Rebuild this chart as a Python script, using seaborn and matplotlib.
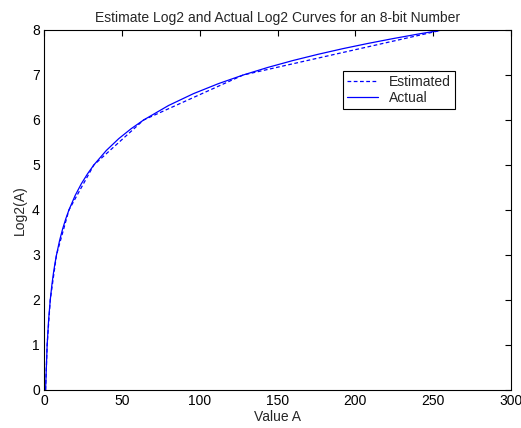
import matplotlib
matplotlib.use('Agg')
import matplotlib.pyplot as plt
import seaborn as sns
import pandas as pd

# valores
est_x = [1, 2, 4, 8, 16, 32, 64, 128, 255]
est_y = [0, 1, 2, 3, 4, 5, 6, 7, 7.992]

act_x = [1, 2, 3, 4, 5, 6, 7, 8, 10, 12, 14, 16, 20, 24, 28, 32, 40, 48, 56, 64,
         80, 96, 112, 128, 144, 160, 176, 192, 208, 224, 240, 255]
act_y = [0, 1, 1.585, 2, 2.322, 2.585, 2.807, 3, 3.322, 3.585, 3.807, 4, 4.322, 4.585,
         4.807, 5, 5.322, 5.585, 5.807, 6, 6.322, 6.585, 6.807, 7, 7.170, 7.322,
         7.459, 7.585, 7.700, 7.807, 7.907, 7.994]

x_ticks = [0, 50, 100, 150, 200, 250, 300]
y_ticks = [0, 1, 2, 3, 4, 5, 6, 7, 8]

sns.set_style('white')
plt.rcParams['font.family'] = ['Liberation Sans', 'DejaVu Sans']

df_est = pd.DataFrame({'A': est_x, 'log2': est_y})
df_act = pd.DataFrame({'A': act_x, 'log2': act_y})

fig = plt.figure(figsize=(5.21, 4.28), dpi=100)
ax = fig.add_axes([0.0845, 0.0888, 0.8965, 0.8412])

sns.lineplot(data=df_est, x='A', y='log2', ax=ax, color='#0000ff', lw=0.9,
             linestyle=(0, (3, 2)), sort=False, estimator=None, label='Estimated')
sns.lineplot(data=df_act, x='A', y='log2', ax=ax, color='#0000ff', lw=0.9,
             sort=False, estimator=None, label='Actual')

ax.set_xlim(0, 300)
ax.set_ylim(0, 8)
ax.set_xticks(x_ticks)
ax.set_yticks(y_ticks)
ax.tick_params(direction='in', length=4, width=0.8, top=True, right=True,
               labelsize=10, pad=3, colors='black')
for s in ax.spines.values():
    s.set_visible(True)
    s.set_color('black')
    s.set_linewidth(0.8)

ax.set_title('Estimate Log2 and Actual Log2 Curves for an 8-bit Number', fontsize=10, pad=6)
ax.set_xlabel('Value A', fontsize=10, labelpad=1)
ax.set_ylabel('Log2(A)', fontsize=10, labelpad=4)

leg = ax.legend(loc='upper left', bbox_to_anchor=(0.64, 0.886), fontsize=10,
                frameon=True, fancybox=False, framealpha=1, edgecolor='black',
                handlelength=2.2, borderpad=0.3, labelspacing=0.15, handletextpad=0.8,
                borderaxespad=0)
leg.get_frame().set_linewidth(0.8)

plt.savefig('out.png', dpi=100)
